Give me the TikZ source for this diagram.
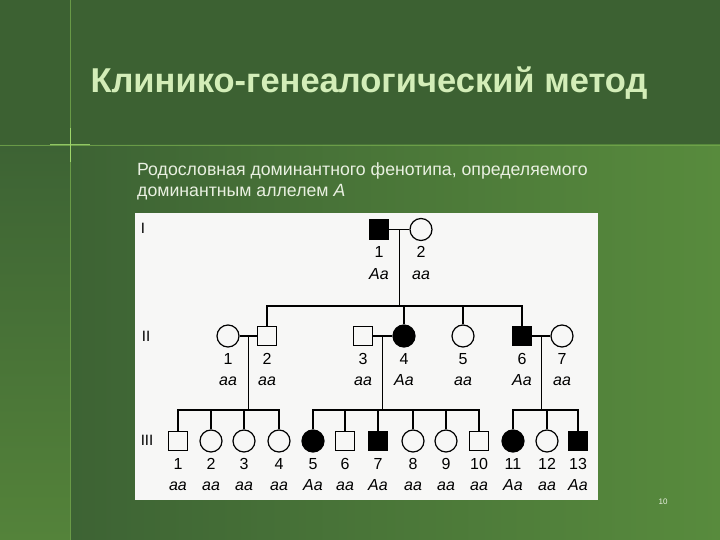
\documentclass[tikz,border=0pt]{standalone}
\usepackage{fontspec}
\setmainfont{Liberation Sans}
\usetikzlibrary{calc}
\definecolor{bgtop}{HTML}{3C6132}
\definecolor{bgdark}{HTML}{3D6334}
\definecolor{bglight}{HTML}{588B3D}
\definecolor{bgleft}{HTML}{54833A}
\definecolor{rule}{HTML}{74A84C}
\definecolor{glow}{HTML}{B6F07A}
\definecolor{titlec}{HTML}{D3EDB8}
\definecolor{subc}{HTML}{E9F0E1}
\definecolor{panel}{HTML}{F7F7F6}
\tikzset{
  male/.style={rectangle,draw,line width=1.2pt,minimum size=19pt,inner sep=0pt},
  female/.style={circle,draw,line width=1.2pt,minimum size=22pt,inner sep=0pt},
  aff/.style={fill=black},
  lab/.style={align=center,inner sep=0pt,yshift=-33.5pt,font=\fontsize{16}{21.5}\selectfont},
  gen/.style={font=\fontsize{15}{15}\selectfont,inner sep=0pt},
  tie/.style={line width=1.1pt}
}

\begin{document}
\begin{tikzpicture}[x=1pt,y=-1pt]
  \useasboundingbox (0,0) rectangle (720,540);
  % background
  \fill[bgtop] (0,0) rectangle (720,145);
  \shade[left color=bgdark,right color=bglight] (70,145) rectangle (720,540);
  \shade[top color=bgdark,bottom color=bgleft] (0,145) rectangle (70,540);
  \draw[rule,line width=0.8pt,opacity=0.8] (70,0) -- (70,540) (0,145) -- (720,145);
  \draw[glow,line width=1pt,opacity=0.7] (70,128) -- (70,162) (50,145) -- (90,145);
  % texts
  \node[font=\bfseries\fontsize{34.5}{38}\selectfont,text=titlec] (title) at (369,83) {Клинико-генеалогический метод};
  \node[anchor=north west,align=left,inner sep=0pt,font=\fontsize{17.7}{21.5}\selectfont,text=subc] (sub) at (137,162)
    {Родословная доминантного фенотипа, определяемого\\доминантным аллелем \textit{A}};
  \node[font=\fontsize{8}{9}\selectfont,text=subc] (pg) at (663,502) {10};
  % panel
  \fill[panel] (135,213) rectangle (598,500);
  \node[gen] (gI) at (143,228) {I};
  \node[gen] (gII) at (146,336) {II};
  \node[gen] (gIII) at (147,440) {III};

  % generation I
  \node[male,aff,label={[lab]center:{1\\\textit{Aa}}}] (I1) at (379,229.5) {};
  \node[female,label={[lab]center:{2\\\textit{aa}}}] (I2) at (421,229.5) {};
  % generation II
  \node[female,label={[lab]center:{1\\\textit{aa}}}] (II1) at (228,336) {};
  \node[male,label={[lab]center:{2\\\textit{aa}}}] (II2) at (267,336) {};
  \node[male,label={[lab]center:{3\\\textit{aa}}}] (II3) at (363,336) {};
  \node[female,aff,label={[lab]center:{4\\\textit{Aa}}}] (II4) at (404,336) {};
  \node[female,label={[lab]center:{5\\\textit{aa}}}] (II5) at (463,336) {};
  \node[male,aff,label={[lab]center:{6\\\textit{Aa}}}] (II6) at (522,336) {};
  \node[female,label={[lab]center:{7\\\textit{aa}}}] (II7) at (562,336) {};
  % generation III
  \node[male,label={[lab]center:{1\\\textit{aa}}}] (III1) at (178,441) {};
  \node[female,label={[lab]center:{2\\\textit{aa}}}] (III2) at (211,441) {};
  \node[female,label={[lab]center:{3\\\textit{aa}}}] (III3) at (244,441) {};
  \node[female,label={[lab]center:{4\\\textit{aa}}}] (III4) at (279,441) {};
  \node[female,aff,label={[lab]center:{5\\\textit{Aa}}}] (III5) at (313,441) {};
  \node[male,label={[lab]center:{6\\\textit{aa}}}] (III6) at (345,441) {};
  \node[male,aff,label={[lab]center:{7\\\textit{Aa}}}] (III7) at (378,441) {};
  \node[female,label={[lab]center:{8\\\textit{aa}}}] (III8) at (413,441) {};
  \node[female,label={[lab]center:{9\\\textit{aa}}}] (III9) at (446,441) {};
  \node[male,label={[lab]center:{10\\\textit{aa}}}] (III10) at (479,441) {};
  \node[female,aff,label={[lab]center:{11\\\textit{Aa}}}] (III11) at (513,441) {};
  \node[female,label={[lab]center:{12\\\textit{aa}}}] (III12) at (547,441) {};
  \node[male,aff,label={[lab]center:{13\\\textit{Aa}}}] (III13) at (578,441) {};

  % marriages and descent
  \coordinate (sib2) at (0,306);
  \coordinate (sib3) at (0,410);
  \draw[tie] (I1) -- (I2);
  \draw[tie] (II1) -- (II2);
  \draw[tie] (II3) -- (II4);
  \draw[tie] (II6) -- (II7);
  \coordinate (m1) at ($(I1.east)!0.5!(I2.west)$);
  \coordinate (m2) at ($(II1.east)!0.5!(II2.west)$);
  \coordinate (m3) at ($(II3.east)!0.5!(II4.west)$);
  \coordinate (m4) at ($(II6.east)!0.5!(II7.west)$);
  \draw[tie] (m1) -- (m1 |- sib2);
  \draw[tie] (II2.north) -- (II2.north |- sib2) -- (II6.north |- sib2) -- (II6.north)
    (II4.north) -- (II4.north |- sib2) (II5.north) -- (II5.north |- sib2);
  \draw[tie] (m2) -- (m2 |- sib3) (m3) -- (m3 |- sib3) (m4) -- (m4 |- sib3);
  \draw[tie] (III1.north) -- (III1.north |- sib3) -- (III4.north |- sib3) -- (III4.north)
    (III2.north) -- (III2.north |- sib3) (III3.north) -- (III3.north |- sib3);
  \draw[tie] (III5.north) -- (III5.north |- sib3) -- (III10.north |- sib3) -- (III10.north)
    (III6.north) -- (III6.north |- sib3) (III7.north) -- (III7.north |- sib3)
    (III8.north) -- (III8.north |- sib3) (III9.north) -- (III9.north |- sib3);
  \draw[tie] (III11.north) -- (III11.north |- sib3) -- (III13.north |- sib3) -- (III13.north)
    (III12.north) -- (III12.north |- sib3);
\end{tikzpicture}
\end{document}
